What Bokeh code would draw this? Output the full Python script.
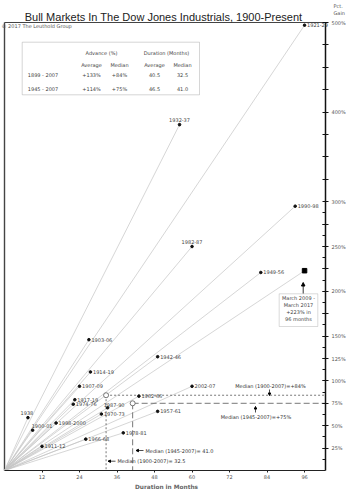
from bokeh.plotting import figure
from bokeh.models import (Label, Arrow, NormalHead, BoxAnnotation, FixedTicker,
                          Range1d, ColumnDataSource, LinearAxis)
from bokeh.embed import file_html
from bokeh.resources import INLINE

# ---------------- data ----------------
periods = ["1921-29", "1932-37", "1990-98", "1982-87", "1949-56", "1903-06",
           "1942-46", "1914-19", "1907-09", "2002-07", "1917-19", "1962-66",
           "1974-76", "1987-90", "1938", "1970-73", "1957-61", "1998-2000",
           "1900-01", "1978-81", "1966-68", "1911-12"]
months = [96, 56, 93, 60, 82, 27, 49, 27.5, 24, 60, 22.5, 43,
          22, 33, 7.5, 31, 49, 16.5, 9, 38, 26, 12]
gains = [497, 386, 295, 250, 221, 146, 127, 110, 94, 94, 79, 83,
         74, 70, 59, 63, 66, 53, 45, 42, 35, 27]

current_label = ["March 2009 -", "March 2017", "+223% in", "96 months"]
current_months = [96]
current_gain = [223]

median_names = ["1900-2007", "1945-2007"]
median_months = [32.5, 41.0]
median_gains = [84, 75]

table_header = ["Advance (%)", "Duration (Months)"]
table_sub = ["Average", "Median", "Average", "Median"]
table_rows = ["1899 - 2007", "1945 - 2007"]
table_values = [["+133%", "+84%", "40.5", "32.5"],
                ["+114%", "+75%", "46.5", "41.0"]]

x_ticks = [12, 24, 36, 48, 60, 72, 84, 96]
y_ticks = list(range(25, 501, 25))
y_labelled = [25, 50, 75, 100, 125, 150, 200, 250, 300, 400, 500]
y_minor = [v * 12.5 for v in range(1, 24)]

# label placement style (not data)
LABEL_STYLE = {
    "1932-37": ("center", 0, 5),
    "1982-87": ("center", 0, 5),
    "1938": ("center", -1, 5),
    "1900-01": ("left", -1, 4),
    "1987-90": ("left", -4, 3),
}

XR = 102.7
YR = 500


def X(px):
    return (px - 4) * XR / 321


def Y(py):
    return (470 - py) * YR / 448


FONT = "DejaVu Sans"
SMALL = "5px"

p = figure(width=350, height=491, x_range=Range1d(X(0), X(350)), y_range=Range1d(Y(491), Y(0)),
           x_axis_location=None, y_axis_location=None, output_backend="svg",
           toolbar_location=None, title=None, min_border=0)
p.background_fill_color = "white"
p.border_fill_color = "white"
p.xgrid.visible = False
p.ygrid.visible = False
p.outline_line_color = None

# axes (fixed inside the canvas)
xa = LinearAxis(fixed_location=0, bounds=(0, XR))
xa.ticker = FixedTicker(ticks=x_ticks)
xa.axis_line_color = "#222222"
xa.major_tick_line_color = "#222222"
xa.major_tick_out = 2
xa.major_tick_in = 0
xa.minor_tick_line_color = None
xa.major_label_standoff = 2
xa.major_label_text_font = FONT
xa.major_label_text_font_size = SMALL
xa.major_label_text_color = "#555555"
p.add_layout(xa, "below")

ya = LinearAxis(fixed_location=XR, bounds=(0, YR))
ya.ticker = FixedTicker(ticks=y_ticks, minor_ticks=y_minor)
ya.axis_line_color = "#111111"
ya.axis_line_width = 1.5
ya.major_tick_line_color = "#111111"
ya.major_tick_in = 3
ya.major_tick_out = 3
ya.minor_tick_line_color = "#111111"
ya.minor_tick_in = 3
ya.minor_tick_out = 0
ya.major_label_standoff = 3
ya.major_label_text_font = FONT
ya.major_label_text_font_size = SMALL
ya.major_label_text_color = "#555555"
overrides = {}
for t in y_ticks:
    overrides[t] = (f"{t}%" if t in y_labelled else "")
ya.major_label_overrides = overrides
p.add_layout(ya, "right")

# frame lines (left and top)
p.segment(x0=[0, 0], y0=[0, YR], x1=[0, XR], y1=[YR, YR], line_color="#444444",
          line_width=[1.4, 1])

# rays from origin
all_m = months + current_months
all_g = gains + current_gain
src = ColumnDataSource(dict(x0=[0] * len(all_m), y0=[0] * len(all_m), x1=all_m, y1=all_g))
p.segment(x0="x0", y0="y0", x1="x1", y1="y1", source=src, line_color="#c4c4c4", line_width=0.7)

# median dashed lines
dashes = ["2 2", "6 3"]
for mm, mg, d in zip(median_months, median_gains, dashes):
    p.segment(x0=[mm], y0=[mg], x1=[XR], y1=[mg], line_color="#555555", line_width=0.8, line_dash=d)
    p.segment(x0=[mm], y0=[mg], x1=[mm], y1=[0], line_color="#555555", line_width=0.8, line_dash=d)
p.scatter(median_months, median_gains, marker="circle", size=5, fill_color="white",
          line_color="#555555", line_width=0.8)

# points
p.scatter(months, gains, marker="circle", size=2.6, color="#111111")
p.scatter(current_months, current_gain, marker="square", size=4.5, color="#000000")

for name, m, g in zip(periods, months, gains):
    align, xo, yo = LABEL_STYLE.get(name, ("left", 2.5, 0))
    p.add_layout(Label(x=m, y=g, text=name, x_offset=xo, y_offset=yo, text_align=align,
                       text_baseline="middle", text_font=FONT, text_font_size=SMALL,
                       text_color="#444444"))

# callout for current market
p.add_layout(BoxAnnotation(left=X(278.7), right=X(317.3), top=Y(293.3), bottom=Y(326),
                           fill_color="white", fill_alpha=1, line_color="#888888", line_width=1))
for i, line in enumerate(current_label):
    p.add_layout(Label(x=X(298), y=Y(297.5 + i * 7), text=line, text_align="center",
                       text_baseline="middle", text_font=FONT, text_font_size=SMALL,
                       text_color="#444444"))
p.add_layout(Arrow(end=NormalHead(size=3.5, fill_color="black", line_color="black"),
                   x_start=X(302.7), y_start=Y(293), x_end=X(302.7), y_end=Y(282),
                   line_color="black", line_width=0.8))

# median annotations
TXT = dict(text_font=FONT, text_font_size=SMALL, text_color="#333333", text_baseline="middle")
p.add_layout(Label(x=X(270), y=Y(385.7), text=f"Median ({median_names[0]})=+{median_gains[0]}%",
                   text_align="center", **TXT))
p.add_layout(Arrow(end=NormalHead(size=2.5, fill_color="black", line_color="black"),
                   x_start=X(269), y_start=Y(389), x_end=X(269), y_end=Y(395),
                   line_color="black", line_width=0.7))
p.add_layout(Label(x=X(255.5), y=Y(416.7), text=f"Median ({median_names[1]})=+{median_gains[1]}%",
                   text_align="center", **TXT))
p.add_layout(Arrow(end=NormalHead(size=2.5, fill_color="black", line_color="black"),
                   x_start=X(255), y_start=Y(412), x_end=X(255), y_end=Y(406),
                   line_color="black", line_width=0.7))
p.add_layout(Label(x=X(145), y=Y(450), text=f"Median ({median_names[1]})= {median_months[1]:.1f}",
                   text_align="left", **TXT))
p.add_layout(Arrow(end=NormalHead(size=2.5, fill_color="black", line_color="black"),
                   x_start=X(143), y_start=Y(450), x_end=X(135.5), y_end=Y(450),
                   line_color="black", line_width=0.7))
p.add_layout(Label(x=X(117), y=Y(460.7), text=f"Median ({median_names[0]})= {median_months[0]:.1f}",
                   text_align="left", **TXT))
p.add_layout(Arrow(end=NormalHead(size=2.5, fill_color="black", line_color="black"),
                   x_start=X(115), y_start=Y(460.7), x_end=X(107.5), y_end=Y(460.7),
                   line_color="black", line_width=0.7))

# table
p.add_layout(BoxAnnotation(left=X(21.7), right=X(199), top=Y(41.7), bottom=Y(94.3),
                           fill_color="white", fill_alpha=1, line_color="#777777", line_width=1))
TT = dict(text_font=FONT, text_font_size=SMALL, text_color="#444444", text_baseline="middle")
for h, cx in zip(table_header, [101, 166]):
    p.add_layout(Label(x=X(cx), y=Y(52.7), text=h, text_align="center", **TT))
col_x = [91, 119, 154, 182]
for s, cx in zip(table_sub, col_x):
    p.add_layout(Label(x=X(cx), y=Y(64), text=s, text_align="center", **TT))
for r, (row, vals) in enumerate(zip(table_rows, table_values)):
    yy = 74 + r * 14.3
    p.add_layout(Label(x=X(27.3), y=Y(yy), text=row, text_align="left", **TT))
    for v, cx in zip(vals, col_x):
        p.add_layout(Label(x=X(cx), y=Y(yy), text=v, text_align="center", **TT))
rule_x0 = [78.7, 140, 78.7, 108, 141, 170]
rule_x1 = [133, 194, 104, 130, 166.7, 194]
rule_y = [58.3, 58.3, 69.3, 69.3, 69.3, 69.3]
p.segment(x0=[X(a) for a in rule_x0], y0=[Y(b) for b in rule_y],
          x1=[X(a) for a in rule_x1], y1=[Y(b) for b in rule_y],
          line_color="#777777", line_width=0.8)

# outer texts
p.add_layout(Label(x=X(163), y=Y(16), text="Bull Markets In The Dow Jones Industrials, 1900-Present",
                   text_align="center", text_baseline="middle", text_font="Liberation Sans",
                   text_font_size="11px", text_color="#222222"))
p.add_layout(Label(x=X(1), y=Y(25.5), text="\u00a9 2017 The Leuthold Group", text_align="left",
                   text_baseline="middle", text_font=FONT, text_font_size="5px",
                   text_color="#555555"))
p.add_layout(Label(x=X(333), y=Y(5), text="Pct.", text_align="left", text_baseline="middle",
                   text_font=FONT, text_font_size=SMALL, text_color="#555555"))
p.add_layout(Label(x=X(333), y=Y(12.5), text="Gain", text_align="left", text_baseline="middle",
                   text_font=FONT, text_font_size=SMALL, text_color="#555555"))
p.add_layout(Label(x=X(166), y=Y(486), text="Duration in Months", text_align="center",
                   text_baseline="middle", text_font=FONT, text_font_size="5.8px",
                   text_font_style="bold", text_color="#666666"))

open("out.html", "w").write(file_html(p, INLINE))
